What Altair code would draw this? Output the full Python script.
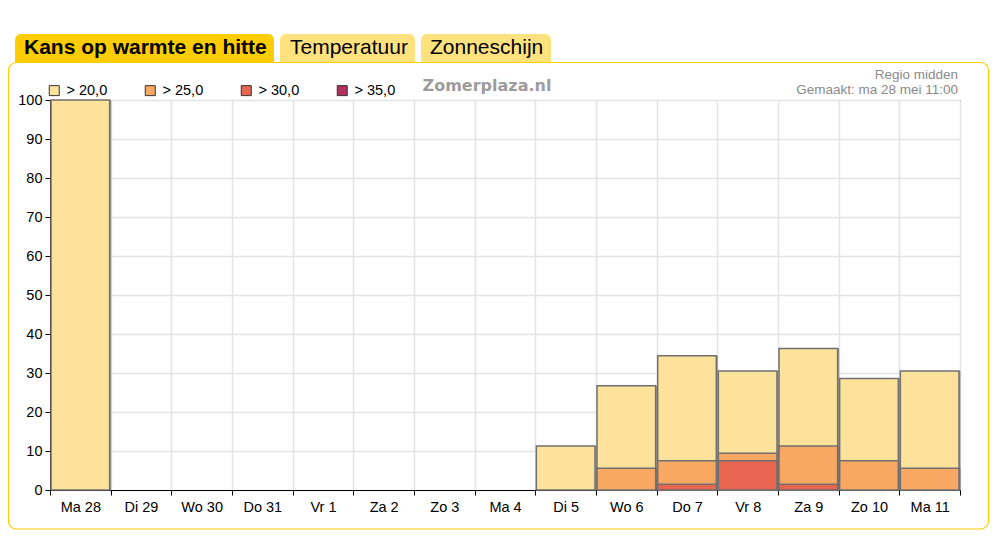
import json
import pandas as pd
import altair as alt

# ---------------- data ----------------
days = ["Ma 28", "Di 29", "Wo 30", "Do 31", "Vr 1", "Za 2", "Zo 3", "Ma 4",
        "Di 5", "Wo 6", "Do 7", "Vr 8", "Za 9", "Zo 10", "Ma 11"]
drempels = ["> 20,0", "> 25,0", "> 30,0", "> 35,0"]
kleuren = ["#fde29b", "#f8a862", "#e8654f", "#b2305f"]
p20 = [100, 0, 0, 0, 0, 0, 0, 0, 11.3, 26.7, 34.4, 30.5, 36.3, 28.6, 30.5]
p25 = [0, 0, 0, 0, 0, 0, 0, 0, 0, 5.6, 7.5, 9.4, 11.3, 7.5, 5.6]
p30 = [0, 0, 0, 0, 0, 0, 0, 0, 0, 0, 1.5, 7.5, 1.5, 0, 0]
p35 = [0, 0, 0, 0, 0, 0, 0, 0, 0, 0, 0, 0, 0, 0, 0]
y_ticks = [0, 10, 20, 30, 40, 50, 60, 70, 80, 90, 100]
tabs = ["Kans op warmte en hitte", "Temperatuur", "Zonneschijn"]
watermark = "Zomerplaza.nl"
regio = "Regio midden"
gemaakt = "Gemaakt: ma 28 mei 11:00"

series = [p20, p25, p30, p35]
rows = []
for d, (lab, vals) in enumerate(zip(drempels, series)):
    for i, v in enumerate(vals):
        if v > 0:
            rows.append(dict(dag=days[i], start=i, end=i + 1, drempel=lab, orde=d, kans=v))
df = pd.DataFrame(rows)

W, H = 910, 390
n = len(days)
FONT = "Liberation Sans"

label_expr = f"datum.value < {n} ? {json.dumps(days)}[datum.value] : ''"

x_enc = alt.X("start:Q", scale=alt.Scale(domain=[0, n], nice=False, zero=False, padding=0),
              axis=alt.Axis(values=list(range(n + 1)), labelExpr=label_expr,
                            labelOffset=W / n / 2, labelOverlap=False, labelFlush=False,
                            labelBound=False, title=None, tickSize=5, labelPadding=5,
                            grid=True))
y_enc = alt.Y("kans:Q", stack=None, scale=alt.Scale(domain=[0, 100], nice=False, padding=0),
              axis=alt.Axis(values=y_ticks, title=None, tickSize=5, labelPadding=3, grid=True))

# soft shadow behind each bar (right/bottom)
shadow = alt.Chart(df).mark_bar(
    color="#555", opacity=0.55, xOffset=3, x2Offset=0.5, yOffset=0, y2Offset=0
).encode(x=x_enc, x2="end:Q", y=y_enc, y2=alt.datum(0), order=alt.Order("orde:Q"))

bars = alt.Chart(df).mark_bar(
    stroke="#707070", strokeWidth=1.5, xOffset=1, x2Offset=-1, opacity=1
).encode(
    x=x_enc,
    x2="end:Q",
    y=y_enc,
    y2=alt.datum(0),
    color=alt.Color("drempel:N", scale=alt.Scale(domain=drempels, range=kleuren),
                    legend=alt.Legend(orient="none", legendX=-3, legendY=-17,
                                      direction="horizontal", title=None,
                                      symbolType="square", symbolSize=100,
                                      symbolStrokeColor="#333", symbolStrokeWidth=1,
                                      labelFontSize=14.5, labelFont=FONT, labelColor="#000",
                                      columnPadding=35, labelOffset=5, padding=0)),
    order=alt.Order("orde:Q"),
    tooltip=["dag:N", "drempel:N", "kans:Q"],
)

one = pd.DataFrame({"k": [0]})


def rect(x1, x2, y1, y2, **kw):
    return alt.Chart(one).mark_rect(**kw).encode(
        x=alt.value(x1), x2=alt.value(x2), y=alt.value(y1), y2=alt.value(y2))


def txt(x, y, s, **kw):
    return alt.Chart(one).mark_text(**kw).encode(
        x=alt.value(x), y=alt.value(y), text=alt.value(s))


border = rect(-41.5, 938.5, -37.5, 429, fillOpacity=0, stroke="#ffcc00",
              strokeWidth=1.2, cornerRadius=8)
tab1 = rect(-35, 224, -66, -37, fill="#ffcc00", cornerRadiusTopLeft=6, cornerRadiusTopRight=6)
tab2 = rect(230, 365, -66, -38, fill="#ffe27e", cornerRadiusTopLeft=6, cornerRadiusTopRight=6)
tab3 = rect(371, 501, -66, -38, fill="#ffe27e", cornerRadiusTopLeft=6, cornerRadiusTopRight=6)
t1 = txt(-26, -52, tabs[0], align="left", baseline="middle", font=FONT, fontSize=21,
         fontWeight="bold", color="#000")
t2 = txt(240, -52, tabs[1], align="left", baseline="middle", font=FONT, fontSize=21, color="#000")
t3 = txt(380, -52, tabs[2], align="left", baseline="middle", font=FONT, fontSize=21, color="#000")
wm = txt(437, -14, watermark, align="center", baseline="middle", font="DejaVu Sans",
         fontSize=16, fontWeight="bold", color="#9c9c9c")
r1 = txt(908, -25, regio, align="right", baseline="middle", font=FONT, fontSize=13.5, color="#8a8a8a")
r2 = txt(908, -10, gemaakt, align="right", baseline="middle", font=FONT, fontSize=13.5, color="#8a8a8a")

chart = alt.layer(border, tab1, tab2, tab3, t1, t2, t3, wm, r1, r2, shadow, bars).properties(
    width=W, height=H,
    autosize=alt.AutoSizeParams(type="none"),
    padding={"left": 42, "top": 92, "right": 30, "bottom": 40},
    background="white",
).configure_view(
    stroke="#000", strokeWidth=1
).configure_axis(
    labelFont=FONT, labelFontSize=14.5, labelColor="#000",
    domainColor="#000", tickColor="#000", gridColor="#e3e3e3", gridWidth=1.5,
)

chart.save("out.html", embed_options={"renderer": "svg", "actions": False})
